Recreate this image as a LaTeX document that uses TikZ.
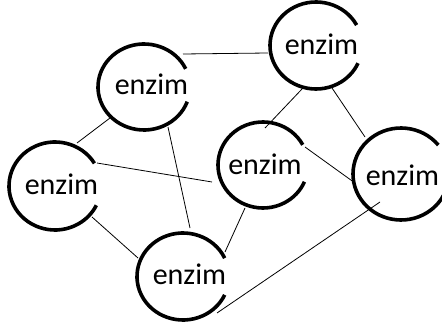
\documentclass[tikz,border=0pt]{standalone}
\usepackage{fontspec}
\setmainfont{Carlito}
\usetikzlibrary{shapes.geometric,calc}
\begin{document}
\begin{tikzpicture}[x=1pt,y=1pt,
  enz/.style={ellipse, inner sep=0pt, outer sep=0pt, minimum width=92pt, minimum height=86pt},
  ring/.style={line width=3.6pt},
  link/.style={line width=0.8pt},
  lbl/.style={font=\fontsize{30}{30}\selectfont, anchor=base, inner sep=0pt}]
\useasboundingbox (0,0) rectangle (442,327);
% enzyme nodes
\node[enz] (A) at (144,240) {};
\node[enz, minimum height=87pt] (B) at (316,281.5) {};
\node[enz, minimum height=88pt] (C) at (55,141) {};
\node[enz, minimum width=90pt] (D) at (263,162) {};
\node[enz, minimum width=96pt, minimum height=92pt] (E) at (401,153) {};
\node[enz, minimum height=87pt] (F) at (183,50.5) {};
% C-shaped rings
\draw[ring] ($(A.center)+(25:46 and 43)$) arc[start angle=25, end angle=340, x radius=46, y radius=43];
\draw[ring] ($(B.center)+(28:46 and 43.5)$) arc[start angle=28, end angle=336, x radius=46, y radius=43.5];
\draw[ring] ($(C.center)+(31:46 and 44)$) arc[start angle=31, end angle=334, x radius=46, y radius=44];
\draw[ring] ($(D.center)+(28:45 and 43)$) arc[start angle=28, end angle=337, x radius=45, y radius=43];
\draw[ring] ($(E.center)+(39:48 and 46)$) arc[start angle=39, end angle=340, x radius=48, y radius=46];
\draw[ring] ($(F.center)+(25:46 and 43.5)$) arc[start angle=25, end angle=335, x radius=46, y radius=43.5];
% labels
\node[lbl] (tA) at (151.5,232) {enzim};
\node[lbl] (tB) at (321.5,272) {enzim};
\node[lbl] (tC) at (61.5,132) {enzim};
\node[lbl] (tD) at (265,152) {enzim};
\node[lbl] (tE) at (402.5,141) {enzim};
\node[lbl] (tF) at (189.5,42) {enzim};
% connectors
\draw[link] ($(A)+(39,33)$) -- ($(B)+(-48,-7.5)$);
\draw[link] ($(A)+(-34,-31)$) -- ($(C)+(22,43)$);
\draw[link] ($(A)+(24,-40)$) -- ($(F)+(7,48.5)$);
\draw[link] ($(C)+(42,23)$) -- ($(D)+(-51,-17)$);
\draw[link] ($(C)+(37,-31)$) -- ($(F)+(-45,18.5)$);
\draw[link] ($(B)+(-14,-43.5)$) -- ($(D)+(2,37)$);
\draw[link] ($(B)+(16,-42.5)$) -- ($(E)+(-36,37)$);
\draw[link] ($(D)+(42,18)$) -- ($(E)+(-46,-9)$);
\draw[link] ($(D)+(-18,-43)$) -- ($(F)+(42,24.5)$);
\draw[link] ($(E)+(-21,-28)$) -- ($(F)+(34,-36.5)$);
\end{tikzpicture}
\end{document}
